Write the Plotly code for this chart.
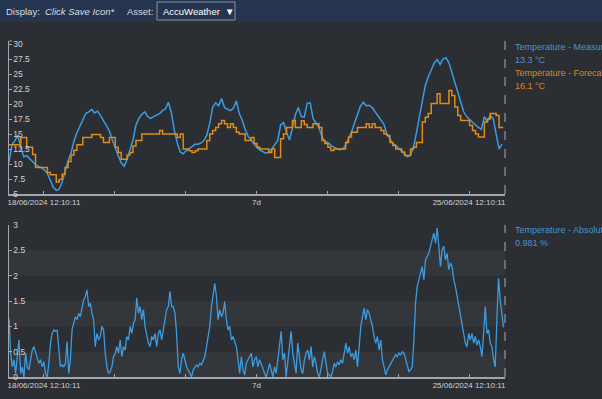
import plotly.graph_objects as go
from datetime import datetime, timedelta

# ---------------- data ----------------
start = datetime(2024, 6, 18, 12, 10, 11)
end = start + timedelta(days=7)

# hourly measured temperature (°C)
temp_measured = [
    10.3, 13.2, 13.9, 14.8, 12.8, 11.2, 11.4, 10.9, 10.4, 9.9,
    9.6, 9.4, 9.0, 8.4, 7.3, 6.1, 5.6, 5.8, 7.0, 8.8,
    10.5, 11.8, 13.8, 15.2, 16.3, 17.3, 18.4, 18.7, 19.1, 18.5,
    18.8, 18.1, 17.2, 16.4, 15.5, 14.0, 12.6, 11.4, 10.2, 9.6,
    10.8, 12.4, 14.0, 16.5, 17.6, 18.3, 18.7, 17.9, 17.6, 17.9,
    18.1, 18.4, 18.9, 19.2, 20.3, 18.5, 15.6, 13.5, 12.0, 11.7,
    12.2, 12.5, 12.9, 13.3, 13.3, 13.5, 13.9, 14.8, 16.8, 19.5,
    20.2, 19.7, 20.9, 19.4, 19.2, 18.9, 19.3, 20.5, 18.4, 17.3,
    15.8, 14.6, 14.0, 13.3, 12.7, 12.3, 12.0, 11.8, 12.0, 12.5,
    13.2, 13.9, 16.5, 16.9, 15.3, 14.0, 16.0, 18.2, 19.4, 17.9,
    17.8, 20.1, 20.2, 17.6, 16.8, 16.0, 14.6, 13.7, 13.6, 13.1,
    12.8, 12.6, 12.4, 12.5, 13.1, 14.2, 15.3, 16.8, 18.4, 19.6,
    20.3, 19.7, 19.8, 19.4, 18.7, 18.0, 17.3, 16.6, 15.0, 14.1,
    13.4, 13.1, 12.6, 12.1, 11.6, 11.2, 11.5, 12.8, 15.2, 18.0,
    20.9, 23.1, 24.5, 25.7, 26.8, 27.4, 26.6, 27.5, 27.7, 26.9,
    25.4, 23.6, 22.0, 20.5, 18.7, 17.9, 17.4, 16.9, 16.5, 16.1,
    15.8, 17.9, 17.0, 18.1, 17.6, 15.0, 12.5, 13.3,
]

# hourly forecast temperature (°C), stepped
temp_forecast = [
    13.2, 13.2, 13.2, 13.2, 14.4, 14.4, 12.8, 12.8, 11.6, 9.4,
    9.4, 9.4, 9.4, 8.6, 8.2, 8.2, 7.0, 7.4, 8.3, 9.4,
    10.4, 11.5, 12.3, 13.2, 13.2, 14.4, 14.4, 14.4, 14.9, 14.9,
    14.9, 14.4, 13.6, 13.6, 14.4, 14.4, 12.8, 11.9, 10.8, 10.8,
    11.5, 11.9, 13.0, 13.9, 13.9, 15.0, 15.0, 15.0, 15.0, 15.0,
    15.0, 15.6, 15.0, 15.0, 15.0, 15.0, 15.0, 14.4, 15.0, 12.5,
    12.5, 12.2, 11.9, 12.2, 12.5, 12.5, 12.5, 13.9, 15.0, 15.6,
    16.1, 16.7, 17.25, 16.7, 16.1, 16.7, 16.1, 15.3, 15.0, 15.0,
    13.9, 13.9, 14.4, 13.4, 12.8, 12.5, 12.5, 12.5, 11.9, 12.5,
    11.1, 11.1, 14.2, 15.0, 16.1, 16.1, 17.25, 16.1, 16.1, 17.2,
    16.6, 16.1, 16.1, 16.7, 16.7, 16.1, 13.9, 13.4, 12.8, 12.25,
    12.5, 12.5, 12.5, 12.5, 13.6, 14.5, 15.3, 15.3, 16.1, 16.1,
    16.1, 16.7, 16.1, 16.7, 16.1, 16.1, 15.6, 15.0, 14.75, 13.6,
    13.1, 12.5, 12.5, 12.0, 11.4, 11.4, 12.5, 12.8, 13.6, 13.6,
    17.0, 17.8, 18.4, 20.1, 20.1, 21.7, 20.1, 20.1, 20.1, 22.25,
    21.4, 19.5, 18.1, 17.25, 17.25, 17.25, 16.4, 15.6, 15.0, 14.5,
    14.5, 17.0, 17.5, 18.4, 18.4, 18.1, 16.1, 16.1,
]

# absolute difference (%), ~34 min samples
abs_diff = [
    1.16, 0.47, 0.20, 0.34, 0.07, 0.34, 0.73, 0.07, 0.20, 0.00,
    0.47, 0.20, 0.14, 0.34, 0.53, 0.60, 0.47, 0.34, 0.27, 0.34,
    0.20, 0.30, 0.07, 0.00, 0.27, 0.67, 0.86, 0.93, 0.90, 0.93,
    0.60, 0.20, 0.24, 0.20, 0.27, 0.70, 0.07, 0.34, 0.93, 1.06,
    1.19, 1.13, 1.26, 1.19, 1.39, 1.52, 1.59, 1.72, 1.39, 1.46,
    1.26, 1.13, 0.60, 0.86, 0.73, 0.80, 1.00, 0.93, 0.47, 0.20,
    0.07, 0.11, 0.20, 0.40, 0.47, 0.60, 0.47, 0.73, 0.40, 0.60,
    0.53, 0.80, 0.73, 1.00, 0.86, 1.06, 1.13, 1.56, 1.26, 1.39,
    1.13, 1.33, 1.00, 0.86, 0.67, 0.60, 0.80, 0.73, 0.86, 0.60,
    0.86, 0.93, 0.73, 0.93, 1.13, 1.33, 1.39, 1.69, 1.39, 1.39,
    1.26, 0.86, 0.20, 0.07, 0.34, 0.47, 0.34, 0.20, 0.14, 0.07,
    0.00, 0.14, 0.20, 0.24, 0.20, 0.27, 0.24, 0.34, 0.40, 0.60,
    0.80, 1.00, 1.39, 1.65, 1.85, 1.59, 1.13, 1.33, 1.19, 1.26,
    1.49, 1.13, 0.93, 1.00, 0.73, 0.80, 0.67, 0.60, 0.34, 0.07,
    0.40, 0.14, 0.04, 0.27, 0.34, 0.40, 0.47, 0.20, 0.34, 0.40,
    0.20, 0.34, 0.27, 0.17, 0.07, 0.00, 0.11, 0.27, 0.14, 0.00,
    0.20, 0.07, 0.34, 0.57, 0.90, 0.34, 0.47, 0.00, 0.34, 0.60,
    0.90, 0.47, 0.27, 0.07, 0.67, 0.34, 0.14, 0.07, 0.34, 0.47,
    0.53, 0.34, 0.60, 0.20, 0.40, 0.27, 0.07, 0.00, 0.20, 0.34,
    0.50, 0.27, 0.07, 0.04, 0.00, 0.11, 0.27, 0.20, 0.30, 0.24,
    0.34, 0.27, 0.47, 0.67, 0.47, 0.60, 0.40, 0.47, 0.34, 0.53,
    0.20, 0.60, 1.00, 1.19, 1.36, 1.13, 1.33, 1.26, 1.13, 1.00,
    0.80, 0.67, 0.80, 0.53, 0.73, 0.34, 0.20, 0.04, 0.14, 0.20,
    0.27, 0.34, 0.40, 0.44, 0.40, 0.47, 0.44, 0.50, 0.47, 0.34,
    0.20, 0.11, 0.14, 0.20, 0.73, 1.46, 1.79, 1.92, 2.05, 2.18,
    1.92, 2.31, 2.38, 2.44, 2.58, 2.71, 2.84, 2.64, 2.94, 2.58,
    2.18, 2.51, 2.58, 2.31, 2.44, 2.12, 2.25, 2.18, 1.92, 1.79,
    1.59, 1.39, 1.19, 1.06, 0.86, 0.67, 0.60, 0.86, 0.73, 0.86,
    0.67, 0.80, 0.63, 0.73, 0.60, 0.40, 0.86, 1.39, 0.86, 0.93,
    0.67, 0.60, 0.34, 0.20, 1.13, 1.95, 1.52, 1.26, 0.981,
]

tick_days = [datetime(2024, 6, d) for d in range(19, 26)]
tick_text = ["18/06/2024 12:10:11", "", "", "7d", "", "", "25/06/2024 12:10:11"]

legend_top = [("Temperature - Measured", "13.3 °C", "#4a94cc"),
              ("Temperature - Forecast", "16.1 °C", "#d88a1e")]
legend_bottom = [("Temperature - Absolute Difference", "0.981 %", "#4a94cc")]

# ---------------- styles ----------------
BG = "#2b2e33"
BAR = "#25354f"
BLUE = "#3d9be0"
ORANGE = "#e08c16"
AXIS = "#a3a7ad"
TXT = "#cfd3d8"
FONT = "Liberation Sans, Arial, sans-serif"

W, H = 602, 399
ML, MR, MT, MB = 9, 97, 41, 22
PW = W - ML - MR
PH = H - MT - MB


def px_x(p):
    return (p - ML) / PW


def px_y(p):
    return (H - MB - p) / PH


t_meas = [start + timedelta(hours=h) for h in range(len(temp_measured))]
t_fc = [start + timedelta(hours=h) for h in range(len(temp_forecast))] + [start + timedelta(hours=167.4)]
fc_vals = temp_forecast + [temp_forecast[-1]]
step_h = 167.5 / (len(abs_diff) - 1)
t_diff = [start + timedelta(hours=i * step_h) for i in range(len(abs_diff))]

fig = go.Figure()
fig.add_trace(go.Scatter(x=t_meas, y=temp_measured, mode="lines",
                         line=dict(color=BLUE, width=1.5), xaxis="x", yaxis="y",
                         hoverinfo="skip"))
fig.add_trace(go.Scatter(x=t_fc, y=fc_vals, mode="lines",
                         line=dict(color=ORANGE, width=1.5, shape="hv"), xaxis="x", yaxis="y",
                         hoverinfo="skip"))
fig.add_trace(go.Scatter(x=t_diff, y=abs_diff, mode="lines",
                         line=dict(color=BLUE, width=1.3), xaxis="x2", yaxis="y2",
                         hoverinfo="skip"))

top_dom = [px_y(194), 1.0]
bot_dom = [0.0, px_y(225)]

xcommon = dict(type="date", range=[start, end], showgrid=False, zeroline=False,
               showline=True, linecolor=AXIS, linewidth=1.5,
               tickmode="array", tickvals=tick_days, ticktext=tick_text,
               ticks="inside", ticklen=3, tickcolor=AXIS, tickwidth=1,
               tickfont=dict(size=8, color=TXT, family=FONT), tickangle=0)
ycommon = dict(showgrid=False, zeroline=False, showline=True, linecolor=AXIS, linewidth=1,
               ticks="inside", ticklen=3, tickcolor=AXIS, ticklabelposition="inside",
               ticklabeloverflow="allow",
               tickfont=dict(size=8.5, color=TXT, family=FONT))

fig.update_layout(
    width=W, height=H,
    margin=dict(l=ML, r=MR, t=MT, b=MB),
    paper_bgcolor=BG, plot_bgcolor=BG,
    showlegend=False,
    font=dict(family=FONT, color=TXT),
    xaxis=dict(**xcommon, anchor="y"),
    xaxis2=dict(**xcommon, anchor="y2", matches="x"),
    yaxis=dict(**ycommon, domain=top_dom, range=[5, 30.5], dtick=2.5, tick0=5, anchor="x"),
    yaxis2=dict(**ycommon, domain=bot_dom, range=[0, 3], dtick=0.5, tick0=0, anchor="x2"),
)

shapes = []
# alternating bands in the lower chart
for lo in (0.0, 1.0, 2.0):
    shapes.append(dict(type="rect", xref="x2 domain", yref="y2", x0=0, x1=1, y0=lo, y1=lo + 0.5,
                       fillcolor="#33363b", line=dict(width=0), layer="below"))
# dashed "now" lines
for yr in ("y domain", "y2 domain"):
    shapes.append(dict(type="line", xref="x domain", yref=yr, x0=1, x1=1, y0=0, y1=1,
                       line=dict(color="#8c9096", width=1.3, dash="dash")))
# top cap of the upper y axis
shapes.append(dict(type="line", xref="paper", yref="y domain", x0=0, x1=px_x(12), y0=1, y1=1,
                   line=dict(color=AXIS, width=1)))
# header bar
shapes.append(dict(type="rect", xref="paper", yref="paper", x0=px_x(-2), x1=px_x(W + 2),
                   y0=px_y(22), y1=px_y(-2), fillcolor=BAR, line=dict(width=0), layer="above"))
# dropdown box
shapes.append(dict(type="rect", xref="paper", yref="paper", x0=px_x(157), x1=px_x(235),
                   y0=px_y(20), y1=px_y(2), fillcolor=BAR, line=dict(color="#8393aa", width=1),
                   layer="above"))
fig.update_layout(shapes=shapes)

ann = []
hdr = [("Display:", 4, False, "#d6dbe2"), ("Click Save Icon*", 43, True, "#d6dbe2"),
       ("Asset:", 125, False, "#d6dbe2"), ("AccuWeather", 161, False, "#ffffff"),
       ("▼", 223, False, "#ffffff")]
for text, xp, ital, col in hdr:
    ann.append(dict(text=f"<i>{text}</i>" if ital else text, xref="paper", yref="paper",
                    x=px_x(xp), y=px_y(11), xanchor="left", yanchor="middle", showarrow=False,
                    font=dict(size=9.5, color=col, family=FONT)))

LEG = 9
ly = 47
for name, val, col in legend_top:
    ann.append(dict(text=name, xref="paper", yref="paper", x=px_x(513), y=px_y(ly),
                    xanchor="left", yanchor="middle", showarrow=False,
                    font=dict(size=LEG, color=col, family=FONT)))
    ann.append(dict(text=val, xref="paper", yref="paper", x=px_x(513), y=px_y(ly + 13),
                    xanchor="left", yanchor="middle", showarrow=False,
                    font=dict(size=LEG, color=col, family=FONT)))
    ly += 26
ly = 230
for name, val, col in legend_bottom:
    ann.append(dict(text=name, xref="paper", yref="paper", x=px_x(513), y=px_y(ly),
                    xanchor="left", yanchor="middle", showarrow=False,
                    font=dict(size=LEG, color=col, family=FONT)))
    ann.append(dict(text=val, xref="paper", yref="paper", x=px_x(513), y=px_y(ly + 13),
                    xanchor="left", yanchor="middle", showarrow=False,
                    font=dict(size=LEG, color=col, family=FONT)))
fig.update_layout(annotations=ann)

fig.write_html("out.html", config={"displayModeBar": False},
               post_script="document.body.style.margin='0';document.body.style.overflow='hidden';document.body.style.background='" + BG + "';")
